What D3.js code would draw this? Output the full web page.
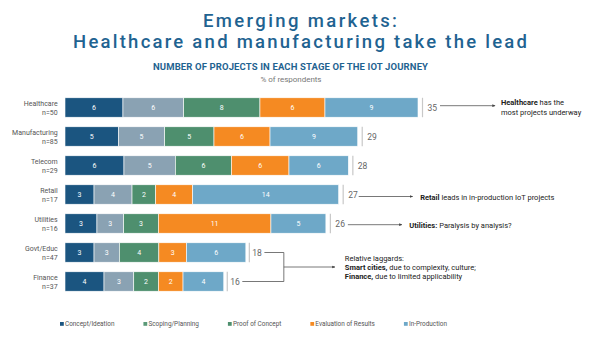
<!DOCTYPE html>
<html><head><meta charset="utf-8">
<script src="https://cdn.jsdelivr.net/npm/d3@7"></script>
<style>
html,body{margin:0;padding:0;background:#fff;}
svg{display:block;font-family:Roboto,"Open Sans",sans-serif;}
</style></head>
<body><svg id="chart" width="600" height="340"></svg>
<script>
// ---- data ----
const categories = ["Healthcare","Manufacturing","Telecom","Retail","Utilities","Govt/Educ","Finance"];
const sampleSizes = ["n=50","n=85","n=29","n=17","n=16","n=47","n=37"];
const seriesNames = ["Concept/Ideation","Scoping/Planning","Proof of Concept","Evaluation of Results","In-Production"];
const conceptIdeation   = [5.75, 5.3, 5.85, 2.88, 3.17, 2.88, 3.87];
const scopingPlanning   = [6.02, 4.59, 5.1, 3.77, 2.65, 2.52, 2.95];
const proofOfConcept    = [7.57, 4.89, 5.56, 2.35, 3.44, 3.91, 2.45];
const evaluationResults = [6.45, 5.56, 5.71, 3.67, 11.17, 2.74, 2.44];
const inProduction      = [9.23, 8.7, 5.89, 14.48, 5.45, 5.89, 4.04];
const totals = [35, 29, 28, 27, 26, 18, 16];

const colors = ["#1b5580","#8aa2b3","#4e8f6e","#f58a22","#6ea8c8"];
const legendColors = ["#1b5580","#5b9a78","#4e8f6e","#f58a22","#6ea8c8"];

const seriesValues = [conceptIdeation, scopingPlanning, proofOfConcept, evaluationResults, inProduction];
const rows = categories.map((c,i)=>{
  const r = {cat:c, n:sampleSizes[i], total:totals[i]};
  seriesNames.forEach((s,j)=> r[s]=seriesValues[j][i]);
  return r;
});

const svg = d3.select("#chart");
const blue = "#1f6391";

// titles
function fitText(sel, w){ sel.attr("textLength", w).attr("lengthAdjust","spacing"); }
svg.append("text").attr("x",300).attr("y",26.8).attr("text-anchor","middle")
  .attr("font-size",18.5).attr("font-weight",500).attr("fill",blue)
  .text("Emerging markets:").call(fitText,194);
svg.append("text").attr("x",300).attr("y",48.2).attr("text-anchor","middle")
  .attr("font-size",18.5).attr("font-weight",500).attr("fill",blue)
  .text("Healthcare and manufacturing take the lead").call(fitText,454);
svg.append("text").attr("x",290.5).attr("y",70).attr("text-anchor","middle")
  .attr("font-size",9.5).attr("font-weight",700).attr("fill",blue)
  .text("NUMBER OF PROJECTS IN EACH STAGE OF THE IOT JOURNEY").call(fitText,275);
svg.append("text").attr("x",291).attr("y",82.3).attr("text-anchor","middle")
  .attr("font-size",8).attr("fill","#777")
  .text("% of respondents").call(fitText,61);

// scales
const x = d3.scaleLinear().domain([0,35]).range([65, 65+35*10.08]);
const y = d3.scaleBand().domain(categories).range([93,296]).paddingInner(0.33).paddingOuter(0.165);
const stack = d3.stack().keys(seriesNames)(rows);

// bars
const g = svg.append("g");
stack.forEach((layer,j)=>{
  const lg = g.append("g").attr("fill",colors[j]);
  lg.selectAll("rect").data(layer).join("rect")
    .attr("x",d=>x(d[0])).attr("y",d=>y(d.data.cat))
    .attr("width",d=>x(d[1])-x(d[0])).attr("height",y.bandwidth())
    .attr("stroke","#fff").attr("stroke-width",0.6);
  lg.selectAll("text").data(layer).join("text")
    .attr("x",d=>(x(d[0])+x(d[1]))/2).attr("y",d=>y(d.data.cat)+y.bandwidth()/2)
    .attr("text-anchor","middle").attr("dominant-baseline","central")
    .attr("font-size",7).attr("fill","#fff")
    .text(d=>Math.round(d[1]-d[0]));
});

// category labels
const yAxis = svg.append("g");
rows.forEach(r=>{
  const cy = y(r.cat)+y.bandwidth()/2;
  yAxis.append("text").attr("x",57.7).attr("y",cy-1.5).attr("text-anchor","end")
    .attr("font-size",7).attr("fill","#555").text(r.cat);
  yAxis.append("text").attr("x",57.7).attr("y",cy+7.5).attr("text-anchor","end")
    .attr("font-size",7).attr("fill","#555").text(r.n);
});

// totals
const barEnd = r => x(seriesNames.reduce((s,k)=>s+r[k],0));
const totalEnd = {};
rows.forEach(r=>{
  const e = barEnd(r), y0 = y(r.cat), cy = y0+y.bandwidth()/2;
  const small = r.total < 20;
  const sx = e + (small ? 3.5 : 4.5), tx = e + (small ? 6.5 : 9.5);
  svg.append("line").attr("x1",sx).attr("x2",sx).attr("y1",y0).attr("y2",y0+y.bandwidth())
    .attr("stroke","#c8c8c8").attr("stroke-width",1.2);
  const t = svg.append("text").attr("x",tx).attr("y",cy).attr("dominant-baseline","central")
    .attr("font-size",8.5).attr("fill","#666").text(r.total);
  totalEnd[r.cat] = tx + t.node().getComputedTextLength();
});

// arrow marker
svg.append("defs").append("marker").attr("id","arr").attr("viewBox","0 0 6 6")
  .attr("refX",5).attr("refY",3).attr("markerWidth",4).attr("markerHeight",4)
  .attr("orient","auto").append("path").attr("d","M0,0.5L6,3L0,5.5Z").attr("fill","#444");

function arrow(x1,y1,x2,y2){
  svg.append("line").attr("x1",x1).attr("y1",y1).attr("x2",x2).attr("y2",y2)
    .attr("stroke","#555").attr("stroke-width",0.8).attr("marker-end","url(#arr)");
}
function note(xp,yp,parts){
  const t = svg.append("text").attr("x",xp).attr("y",yp).attr("dominant-baseline","central")
    .attr("font-size",7.5).attr("fill","#222");
  parts.forEach(p=> t.append("tspan").attr("font-weight",p[1]?700:400).text(p[0]));
}
const rowC = c => y(c)+y.bandwidth()/2;
const byCat = c => rows[categories.indexOf(c)];

// Healthcare
{
  const e = barEnd(byCat("Healthcare")), cy = rowC("Healthcare")-1.8;
  arrow(e+22, cy, e+77, cy);
  note(e+83, cy-3.3, [["Healthcare",true],[" has the",false]]);
  note(e+83, cy+6.3, [["most projects underway",false]]);
}
// Retail
{
  const e = barEnd(byCat("Retail")), cy = rowC("Retail")+2;
  arrow(e+20, cy, e+74, cy);
  note(e+81.5, cy, [["Retail",true],[" leads in in-production IoT projects",false]]);
}
// Utilities
{
  const e = barEnd(byCat("Utilities")), cy = rowC("Utilities")+1.2;
  arrow(e+22, cy, e+76, cy);
  note(e+83.5, cy, [["Utilities:",true],[" Paralysis by analysis?",false]]);
}
// Govt/Finance bracket
{
  const eg = barEnd(byCat("Govt/Educ"));
  const yg = rowC("Govt/Educ"), yf = rowC("Finance");
  const bx = eg+38;
  svg.append("path")
    .attr("d",`M${totalEnd["Govt/Educ"]+2.5},${yg}H${bx}V${yf}H${totalEnd["Finance"]+2.5}`)
    .attr("fill","none").attr("stroke","#555").attr("stroke-width",0.8);
  const my = (yg+yf)/2;
  arrow(bx, my, bx+51, my);
  note(bx+61, my-9.3, [["Relative laggards:",false]]);
  note(bx+61, my, [["Smart cities,",true],[" due to complexity, culture;",false]]);
  note(bx+61, my+9.1, [["Finance,",true],[" due to limited applicability",false]]);
}

// legend
const leg = svg.append("g");
let lx = 60;
seriesNames.forEach((s,j)=>{
  leg.append("rect").attr("x",lx).attr("y",322).attr("width",3.8).attr("height",3.8).attr("fill",legendColors[j]);
  const t = leg.append("text").attr("x",lx+5).attr("y",324).attr("dominant-baseline","central")
    .attr("font-size",6.4).attr("fill","#555").text(s);
  lx += 5 + t.node().getComputedTextLength() + 29;
});
</script>
</body></html>
